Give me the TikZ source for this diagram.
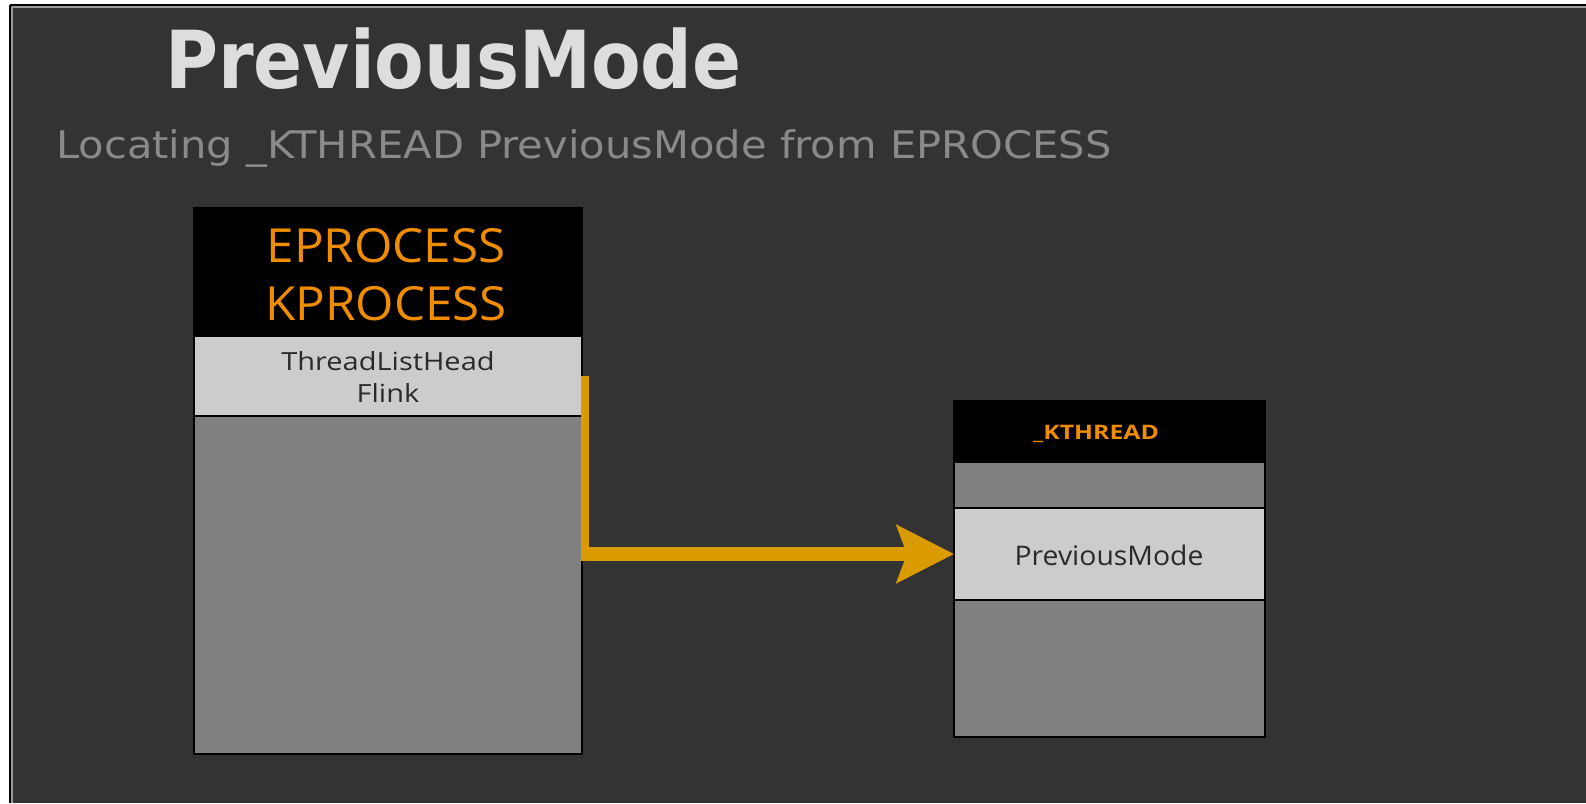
\documentclass[tikz,border=0pt]{standalone}
\usepackage{fontspec}
\setmainfont{DejaVu Sans}
\newfontfamily\boxfont{Open Sans}
\usetikzlibrary{arrows.meta}
\definecolor{bgdark}{HTML}{333333}
\definecolor{midgray}{HTML}{808080}
\definecolor{lightgray}{HTML}{CCCCCC}
\definecolor{orangetxt}{HTML}{F08C00}
\definecolor{arrowcol}{HTML}{DA9B00}
\definecolor{titlecol}{HTML}{DDDDDD}
\definecolor{subcol}{HTML}{8A8A8A}
\definecolor{framegray}{HTML}{999999}
\definecolor{fieldtxt}{HTML}{2A2A2A}
\tikzset{
  sect/.style={draw=black, line width=2pt, rectangle, anchor=north west, inner sep=0pt, outer sep=0pt},
  hdr/.style={sect, fill=black},
  fld/.style={sect, fill=lightgray},
  rest/.style={sect, fill=midgray},
  lbl/.style={anchor=base, inner sep=0pt},
  hdrtxt/.style={lbl, text=orangetxt, font=\boxfont\fontsize{47}{58}\selectfont},
  fldtxt/.style={lbl, text=fieldtxt, font=\boxfont\fontsize{25}{31}\selectfont},
}
\begin{document}
\begin{tikzpicture}[x=1pt,y=-1pt]
\useasboundingbox (0,0) rectangle (1586,803);
\fill[white] (0,0) rectangle (1586,803);
\fill[bgdark] (10,5) rectangle (1586,803);
\draw[black, line width=2pt] (10.3,5.2) -- (10.3,803) (10.3,5.2) -- (1586,5.2);
\draw[framegray, line width=2pt] (12.3,7.2) -- (12.3,803) (12.3,7.2) -- (1586,7.2);

\node[anchor=base west, text=titlecol, font=\bfseries\fontsize{80}{96}\selectfont, inner sep=0pt] (title) at (165,88) {\scalebox{0.904}[1]{PreviousMode}};
\node[anchor=base west, text=subcol, font=\fontsize{38}{46}\selectfont, inner sep=0pt] (subtitle) at (56,158) {\scalebox{1.096}[1]{Locating \_KTHREAD PreviousMode from EPROCESS}};

% EPROCESS box
\node[hdr, minimum width=388pt, minimum height=128pt] (ehdr) at (194,208) {};
\node[hdrtxt] (eproc) at (386,262) {\scalebox{1.05}[1]{EPROCESS}};
\node[hdrtxt] (kproc) at (386,320) {\scalebox{1.05}[1]{KPROCESS}};
\node[fld, minimum width=388pt, minimum height=80pt] (flink) at (194,336) {};
\node[fldtxt] (tlh) at (388,370) {\scalebox{1.16}[1]{ThreadListHead}};
\node[fldtxt] (fl) at (388,402) {\scalebox{1.16}[1]{Flink}};
\node[rest, minimum width=388pt, minimum height=338pt] (erest) at (194,416) {};

% KTHREAD box
\node[hdr, minimum width=311pt, minimum height=61pt] (khdr) at (954,401) {};
\node[lbl, text=orangetxt, font=\boxfont\bfseries\fontsize{20}{24}\selectfont] (kth) at (1096,439) {\scalebox{1.24}[1]{\_KTHREAD}};
\node[rest, minimum width=311pt, minimum height=46pt] (kgray) at (954,462) {};
\node[fld, minimum width=311pt, minimum height=92pt] (pm) at (954,508) {};
\node[lbl, text=fieldtxt, font=\boxfont\fontsize{27}{32}\selectfont] (pmtxt) at (1109,565) {\scalebox{1.05}[1]{PreviousMode}};
\node[rest, minimum width=311pt, minimum height=137pt] (krest) at (954,600) {};

% connector
\coordinate (start) at (585,376);
\coordinate (corner) at (585,561);
\coordinate (hstart) at (581,554);
\draw[arrowcol, line width=8pt] (start) -- (corner);
\draw[arrowcol, line width=14pt, -{Stealth[length=57pt, width=57pt, inset=10pt]}] (hstart) -- (pm.west);
\end{tikzpicture}
\end{document}
